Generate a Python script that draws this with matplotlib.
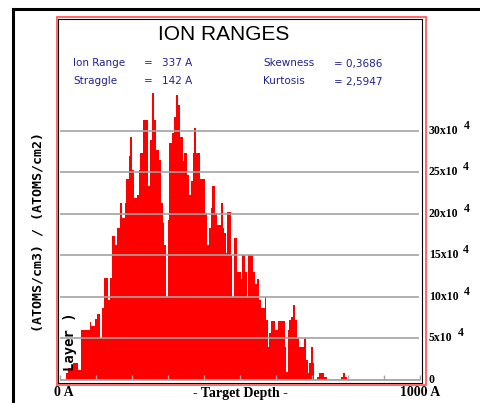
import matplotlib
matplotlib.use("Agg")
import matplotlib.pyplot as plt
from matplotlib.patches import Rectangle
from matplotlib.lines import Line2D

# ---- data (depth in Angstrom, concentration in units of 10^4) ----
depth_edges = [0, 17.6, 22.2, 36.1, 50, 59.3, 82.4, 87, 96.3, 103.7, 110.2, 116.7, 121.3,
               133.3, 138, 144.4, 153.7, 158.3, 165.7, 172.2, 179.6, 184.3, 190.7, 194.4,
               200, 206.5, 213, 218.5, 222.2, 229.6, 243.5, 250, 255.6, 261.1, 266.7, 275.9,
               280.6, 285.2, 289.8, 294.4, 299.1, 303.7, 311.1, 317.6, 322.2, 328.7, 333.3,
               340.7, 345.4, 352.8, 359.3, 363.9, 368.5, 372.2, 376.9, 388.9, 402.8, 407.4,
               413, 418.5, 423.1, 429.6, 435.2, 446.3, 451.9, 455.6, 460.2, 464.8, 474.1,
               478.7, 483.3, 490.7, 501.9, 506.5, 513, 518.5, 523.1, 537, 542.6, 548.1,
               552.8, 557.4, 568.5, 572.2, 576.9, 581.5, 587, 596.3, 605.6, 624.1, 628.7,
               633.3, 637, 642.6, 647.2, 653.7, 658.3, 663, 676.9, 683.3, 688, 692.6, 697.2,
               701.9, 706.5, 713.9, 718.5, 732.4, 741.7, 780.6, 786.1, 792.6, 797.2, 1000]
concentration = [0, 0.8, 1.4, 2.0, 1.2, 6.0, 7.0, 6.5, 7.3, 8.0,
                 5.0, 8.7, 12.3, 9.6, 12.3, 17.3, 16.3, 18.3, 21.3, 19.5,
                 21.3, 24.2, 26.9, 29.3, 25.3, 21.9, 22.3, 25.3, 27.3, 31.3,
                 23.3, 28.9, 34.5, 31.3, 27.7, 26.5, 21.3, 18.9, 16.3, 10.0,
                 19.3, 28.5, 29.7, 31.7, 34.3, 33.1, 29.3, 26.3, 27.3, 24.7,
                 22.3, 24.0, 27.3, 30.3, 27.3, 24.2, 20.1, 16.3, 18.3, 20.7,
                 23.3, 20.1, 18.7, 21.3, 18.3, 17.7, 15.3, 20.2, 15.1, 10.0,
                 17.1, 13.0, 12.2, 15.1, 13.0, 10.0, 15.1, 13.0, 11.6, 12.2,
                 9.6, 8.7, 10.0, 7.2, 4.0, 5.6, 7.1, 6.0, 7.1, 4.0,
                 1.0, 6.0, 7.2, 7.6, 9.0, 7.2, 5.1, 4.0, 5.1, 2.4,
                 0.8, 2.0, 4.0, 2.0, 0, 0.4, 0.9, 0.4, 0, 0.4,
                 0.9, 0.4, 0]
y_ticks = [0, 5, 10, 15, 20, 25, 30]
y_tick_labels = ["0", "5x10", "10x10", "15x10", "20x10", "25x10", "30x10"]
x_ticks = [0, 100, 200, 300, 400, 500, 600, 700, 800, 900, 1000]
title = "ION RANGES"
stats_left = [("Ion Range", "337 A"), ("Straggle", "142 A")]
stats_right = [("Skewness", "0,3686"), ("Kurtosis", "2,5947")]

W, H = 481, 403
fig = plt.figure(figsize=(W / 100, H / 100), dpi=100)
fig.patch.set_facecolor("white")

def fx(px):
    return px / W

def fy(py):
    return 1 - py / H

# axes: data 0 A at x=60px, 1000 A at x=420px; y=0 at 380px, 30 at 130.7px
PXA = 0.36
PXY = 8.31
L, R, T, B = 58.5, 422.5, 19.0, 382.5
ax = fig.add_axes([fx(L), fy(B), fx(R) - fx(L), fy(T) - fy(B)])
ax.set_xlim(-(60 - L) / PXA, 1000 + (R - 420) / PXA)
ax.set_ylim(-(B - 380) / PXY, (380 - T) / PXY)
ax.set_xticks([])
ax.set_yticks([])
for s in ax.spines.values():
    s.set_color("black")
    s.set_linewidth(0.8)

ax.stairs(concentration, depth_edges, fill=True, color="#ff0000", lw=0, zorder=2)

grid_c = "#a3a3a3"
for v in y_ticks[1:]:
    ax.hlines(v, 0, 997, color=grid_c, lw=1.2, zorder=3)
ax.hlines(0, 0, 1000, color=grid_c, lw=1.3, zorder=3)
ax.vlines(x_ticks, 0, 0.55, color=grid_c, lw=1.0, zorder=3)

# right-side tick labels with superscript
serif_b = dict(family="Liberation Serif", weight="bold")
for v, lab in zip(y_ticks, y_tick_labels):
    t = ax.text(1000 + (429 - 420) / PXA, v, lab, ha="left", va="center",
                fontsize=8.5, clip_on=False, **serif_b)
    if v != 0:
        ax.annotate("4", xy=(1, 1), xycoords=t, xytext=(3.5, -5),
                    textcoords="offset points", ha="left", va="bottom",
                    fontsize=8.5, **serif_b)

# x labels
fig.text(fx(64), fy(393), "0 A", ha="center", va="center", fontsize=10, **serif_b)
fig.text(fx(240), fy(393), "- Target Depth -", ha="center", va="center", fontsize=10, **serif_b)
fig.text(fx(420), fy(393), "1000 A", ha="center", va="center", fontsize=10, **serif_b)

# y label
fig.text(fx(38), fy(232), "(ATOMS/cm3) / (ATOMS/cm2)", rotation=90, ha="center",
         va="center", fontsize=9.5, family="DejaVu Sans Mono", weight="bold")
fig.text(fx(70), fy(342), "Layer )", rotation=90, ha="center", va="center",
         fontsize=10, family="DejaVu Sans Mono", weight="bold", zorder=5)

# title and stats
fig.text(fx(223.5), fy(34.5), title, ha="center", va="center", fontsize=15,
         family="Liberation Sans")
blue = "#22228f"
rows_y = [63.5, 81.5]
for (name, val), yy in zip(stats_left, rows_y):
    fig.text(fx(73), fy(yy), name, ha="left", va="center", fontsize=7.5, color=blue,
             family="DejaVu Sans")
    fig.text(fx(144), fy(yy), "=", ha="left", va="center", fontsize=7.5, color=blue,
             family="DejaVu Sans")
    fig.text(fx(162), fy(yy), val, ha="left", va="center", fontsize=7.5, color=blue,
             family="DejaVu Sans")
for (name, val), yy in zip(stats_right, rows_y):
    fig.text(fx(263), fy(yy), name, ha="left", va="center", fontsize=7.5, color=blue,
             family="DejaVu Sans")
    fig.text(fx(334), fy(yy), "= " + val, ha="left", va="center", fontsize=7.5, color=blue,
             family="DejaVu Sans")

# red frame and outer black frame
fig.patches.append(Rectangle((fx(56.5), fy(385)), fx(426) - fx(56.5), fy(16.5) - fy(385),
                             transform=fig.transFigure, fill=False, ec="#ff5c5c", lw=1.3))
fig.lines.append(Line2D([fx(13), fx(13)], [0, fy(9)], transform=fig.transFigure,
                        color="black", lw=2.2))
fig.lines.append(Line2D([fx(13), 1], [fy(9), fy(9)], transform=fig.transFigure,
                        color="black", lw=2.2))

fig.savefig("out.png", dpi=100)
